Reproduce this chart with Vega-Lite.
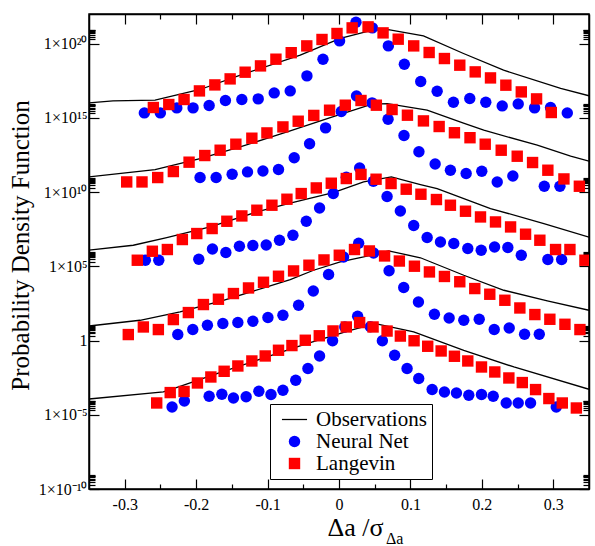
{
"$schema": "https://vega.github.io/schema/vega-lite/v6.json",
"width": 500, "height": 475,
"autosize": {"type": "none"},
"padding": {"left": 89, "top": 14, "right": 6, "bottom": 57},
"config": {
  "view": {"stroke": "black", "strokeWidth": 1.5},
  "font": "Liberation Serif",
  "axis": {"domainColor": "black", "domainWidth": 1.5, "tickColor": "black", "tickWidth": 1.2, "labelColor": "black", "titleColor": "black", "grid": false, "labelFont": "Liberation Serif", "titleFont": "Liberation Serif", "titleFontWeight": "normal", "labelFlush": false, "labelOverlap": false},
  "legend": {"labelFont": "Liberation Serif"}
},
"title": {"text": "Δa", "orient": "bottom", "anchor": "start", "frame": "group", "fontSize": 16, "font": "Liberation Serif", "fontWeight": "normal", "color": "black", "dx": 297, "offset": -9},
"data": {"values": [
{"m":"Observations","g":4,"x":-0.35,"y":1.03e16},{"m":"Observations","g":4,"x":-0.3164,"y":1.40e16},{"m":"Observations","g":4,"x":-0.2575,"y":1.56e16},{"m":"Observations","g":4,"x":-0.1945,"y":8.2e16},{"m":"Observations","g":4,"x":-0.1342,"y":8.8e17},{"m":"Observations","g":4,"x":-0.0543,"y":1.68e19},{"m":"Observations","g":4,"x":0.0018,"y":2.24e20},{"m":"Observations","g":4,"x":0.0467,"y":8.1e20},{"m":"Observations","g":4,"x":0.0691,"y":8.8e20},{"m":"Observations","g":4,"x":0.1182,"y":3.35e20},{"m":"Observations","g":4,"x":0.1743,"y":2.18e19},{"m":"Observations","g":4,"x":0.2304,"y":1.64e18},{"m":"Observations","g":4,"x":0.3103,"y":9.6e16},{"m":"Observations","g":4,"x":0.35,"y":3.1e16},
{"m":"Observations","g":3,"x":-0.35,"y":1.06e11},{"m":"Observations","g":3,"x":-0.2575,"y":3.33e11},{"m":"Observations","g":3,"x":-0.1945,"y":1.84e12},{"m":"Observations","g":3,"x":-0.1384,"y":1.11e13},{"m":"Observations","g":3,"x":-0.0869,"y":6.82e13},{"m":"Observations","g":3,"x":-0.0683,"y":1.33e14},{"m":"Observations","g":3,"x":-0.0122,"y":1.06e15},{"m":"Observations","g":3,"x":0.0463,"y":8.4e15},{"m":"Observations","g":3,"x":0.0677,"y":9.3e15},{"m":"Observations","g":3,"x":0.1234,"y":3.30e15},{"m":"Observations","g":3,"x":0.1743,"y":4.40e14},{"m":"Observations","g":3,"x":0.2027,"y":1.48e14},{"m":"Observations","g":3,"x":0.2776,"y":1.45e13},{"m":"Observations","g":3,"x":0.3243,"y":2.62e12},{"m":"Observations","g":3,"x":0.35,"y":1.21e12},
{"m":"Observations","g":2,"x":-0.35,"y":1.22e6},{"m":"Observations","g":2,"x":-0.288,"y":2.64e6},{"m":"Observations","g":2,"x":-0.2411,"y":8.73e6},{"m":"Observations","g":2,"x":-0.1804,"y":4.52e7},{"m":"Observations","g":2,"x":-0.115,"y":4.63e8},{"m":"Observations","g":2,"x":-0.0683,"y":1.79e9},{"m":"Observations","g":2,"x":-0.008,"y":9.1e9},{"m":"Observations","g":2,"x":0.0345,"y":4.86e10},{"m":"Observations","g":2,"x":0.0733,"y":1.06e11},{"m":"Observations","g":2,"x":0.114,"y":3.25e10},{"m":"Observations","g":2,"x":0.1374,"y":1.75e10},{"m":"Observations","g":2,"x":0.2121,"y":7.85e8},{"m":"Observations","g":2,"x":0.2868,"y":7.66e7},{"m":"Observations","g":2,"x":0.35,"y":9.14e6},
{"m":"Observations","g":1,"x":-0.35,"y":9.6},{"m":"Observations","g":1,"x":-0.2786,"y":23.3},{"m":"Observations","g":1,"x":-0.2225,"y":84.5},{"m":"Observations","g":1,"x":-0.1618,"y":519},{"m":"Observations","g":1,"x":-0.1009,"y":4090},{"m":"Observations","g":1,"x":-0.0683,"y":12900},{"m":"Observations","g":1,"x":-0.0356,"y":54600},{"m":"Observations","g":1,"x":0.0018,"y":198000},{"m":"Observations","g":1,"x":0.0345,"y":430000},{"m":"Observations","g":1,"x":0.0695,"y":1.09e6},{"m":"Observations","g":1,"x":0.114,"y":379000},{"m":"Observations","g":1,"x":0.1747,"y":25100},{"m":"Observations","g":1,"x":0.2308,"y":2450},{"m":"Observations","g":1,"x":0.2916,"y":466},{"m":"Observations","g":1,"x":0.35,"y":110},
{"m":"Observations","g":0,"x":-0.35,"y":1.16e-4},{"m":"Observations","g":0,"x":-0.2459,"y":3.44e-4},{"m":"Observations","g":0,"x":-0.2225,"y":8.32e-4},{"m":"Observations","g":0,"x":-0.171,"y":5.97e-3},{"m":"Observations","g":0,"x":-0.1009,"y":7.85e-2},{"m":"Observations","g":0,"x":-0.0449,"y":0.627},{"m":"Observations","g":0,"x":0.0158,"y":4.94},{"m":"Observations","g":0,"x":0.0509,"y":13.6},{"m":"Observations","g":0,"x":0.1046,"y":3.79},{"m":"Observations","g":0,"x":0.1747,"y":0.222},{"m":"Observations","g":0,"x":0.2448,"y":1.66e-2},{"m":"Observations","g":0,"x":0.35,"y":5.22e-4},
{"m":"Neural Net","g":4,"x":-0.2725,"y":2.17e15},{"m":"Neural Net","g":4,"x":-0.2501,"y":2.17e15},{"m":"Neural Net","g":4,"x":-0.2271,"y":4.72e15},{"m":"Neural Net","g":4,"x":-0.2043,"y":4.72e15},{"m":"Neural Net","g":4,"x":-0.1818,"y":6.84e15},{"m":"Neural Net","g":4,"x":-0.159,"y":1.49e16},{"m":"Neural Net","g":4,"x":-0.136,"y":1.74e16},{"m":"Neural Net","g":4,"x":-0.1131,"y":1.91e16},{"m":"Neural Net","g":4,"x":-0.0907,"y":4.83e16},{"m":"Neural Net","g":4,"x":-0.0683,"y":6.59e16},{"m":"Neural Net","g":4,"x":-0.0449,"y":6.76e17},{"m":"Neural Net","g":4,"x":-0.0224,"y":9.02e18},{"m":"Neural Net","g":4,"x":0.0008,"y":1.54e20},{"m":"Neural Net","g":4,"x":0.0238,"y":2.81e21},{"m":"Neural Net","g":4,"x":0.0467,"y":1.16e21},{"m":"Neural Net","g":4,"x":0.0691,"y":7.1e19},{"m":"Neural Net","g":4,"x":0.0915,"y":4.15e18},{"m":"Neural Net","g":4,"x":0.1144,"y":2.84e17},{"m":"Neural Net","g":4,"x":0.1374,"y":6.3e16},{"m":"Neural Net","g":4,"x":0.1602,"y":1.14e16},{"m":"Neural Net","g":4,"x":0.1831,"y":2.03e16},{"m":"Neural Net","g":4,"x":0.2055,"y":1.14e16},{"m":"Neural Net","g":4,"x":0.2285,"y":6.43e15},{"m":"Neural Net","g":4,"x":0.2509,"y":8.77e15},{"m":"Neural Net","g":4,"x":0.2738,"y":4.72e15},{"m":"Neural Net","g":4,"x":0.2962,"y":5.02e15},{"m":"Neural Net","g":4,"x":0.3196,"y":2.17e15},
{"m":"Neural Net","g":3,"x":-0.1945,"y":9.6e10},{"m":"Neural Net","g":3,"x":-0.172,"y":9.6e10},{"m":"Neural Net","g":3,"x":-0.1496,"y":1.61e11},{"m":"Neural Net","g":3,"x":-0.1281,"y":2.3e11},{"m":"Neural Net","g":3,"x":-0.1065,"y":2.68e11},{"m":"Neural Net","g":3,"x":-0.0847,"y":3.33e11},{"m":"Neural Net","g":3,"x":-0.0627,"y":2.08e12},{"m":"Neural Net","g":3,"x":-0.0412,"y":1.82e13},{"m":"Neural Net","g":3,"x":-0.0188,"y":2.12e14},{"m":"Neural Net","g":3,"x":0.0032,"y":2.7e15},{"m":"Neural Net","g":3,"x":0.0245,"y":3.03e16},{"m":"Neural Net","g":3,"x":0.0463,"y":1.03e16},{"m":"Neural Net","g":3,"x":0.0687,"y":8.2e14},{"m":"Neural Net","g":3,"x":0.091,"y":6.5e13},{"m":"Neural Net","g":3,"x":0.1119,"y":5.27e12},{"m":"Neural Net","g":3,"x":0.1346,"y":7.94e11},{"m":"Neural Net","g":3,"x":0.156,"y":2.99e11},{"m":"Neural Net","g":3,"x":0.178,"y":1.79e11},{"m":"Neural Net","g":3,"x":0.1999,"y":2.56e11},{"m":"Neural Net","g":3,"x":0.2215,"y":4.86e10},{"m":"Neural Net","g":3,"x":0.2434,"y":1.23e11},{"m":"Neural Net","g":3,"x":0.2874,"y":2.49e10},{"m":"Neural Net","g":3,"x":0.3093,"y":2.49e10},
{"m":"Neural Net","g":2,"x":-0.2711,"y":2.58e5},{"m":"Neural Net","g":2,"x":-0.2523,"y":2.58e5},{"m":"Neural Net","g":2,"x":-0.1963,"y":3.01e5},{"m":"Neural Net","g":2,"x":-0.1772,"y":1.49e6},{"m":"Neural Net","g":2,"x":-0.1584,"y":8.5e5},{"m":"Neural Net","g":2,"x":-0.1394,"y":2.26e6},{"m":"Neural Net","g":2,"x":-0.1206,"y":2.52e6},{"m":"Neural Net","g":2,"x":-0.1019,"y":2.77e6},{"m":"Neural Net","g":2,"x":-0.0833,"y":5.74e6},{"m":"Neural Net","g":2,"x":-0.0645,"y":1.24e7},{"m":"Neural Net","g":2,"x":-0.0458,"y":1.09e8},{"m":"Neural Net","g":2,"x":-0.0272,"y":8.6e8},{"m":"Neural Net","g":2,"x":-0.008,"y":8.0e9},{"m":"Neural Net","g":2,"x":0.0102,"y":1.01e11},{"m":"Neural Net","g":2,"x":0.0289,"y":4.28e11},{"m":"Neural Net","g":2,"x":0.0481,"y":5.42e10},{"m":"Neural Net","g":2,"x":0.0673,"y":5.05e9},{"m":"Neural Net","g":2,"x":0.0859,"y":5.41e8},{"m":"Neural Net","g":2,"x":0.1046,"y":5.7e7},{"m":"Neural Net","g":2,"x":0.1234,"y":8.73e6},{"m":"Neural Net","g":2,"x":0.142,"y":4.41e6},{"m":"Neural Net","g":2,"x":0.1607,"y":3.44e6},{"m":"Neural Net","g":2,"x":0.1803,"y":1.58e6},{"m":"Neural Net","g":2,"x":0.1991,"y":1.22e6},{"m":"Neural Net","g":2,"x":0.2178,"y":2.03e6},{"m":"Neural Net","g":2,"x":0.2364,"y":1.85e6},{"m":"Neural Net","g":2,"x":0.2552,"y":5.6e5},{"m":"Neural Net","g":2,"x":0.2924,"y":2.87e5},{"m":"Neural Net","g":2,"x":0.3117,"y":2.87e5},
{"m":"Neural Net","g":1,"x":-0.2257,"y":2.54},{"m":"Neural Net","g":1,"x":-0.2047,"y":5.51},{"m":"Neural Net","g":1,"x":-0.1842,"y":10.7},{"m":"Neural Net","g":1,"x":-0.1626,"y":14.0},{"m":"Neural Net","g":1,"x":-0.1416,"y":16.3},{"m":"Neural Net","g":1,"x":-0.1206,"y":20.0},{"m":"Neural Net","g":1,"x":-0.0995,"y":35.5},{"m":"Neural Net","g":1,"x":-0.0785,"y":50.7},{"m":"Neural Net","g":1,"x":-0.0566,"y":239},{"m":"Neural Net","g":1,"x":-0.036,"y":2200},{"m":"Neural Net","g":1,"x":-0.0146,"y":28000},{"m":"Neural Net","g":1,"x":0.0064,"y":430000},{"m":"Neural Net","g":1,"x":0.0275,"y":3.61e6},{"m":"Neural Net","g":1,"x":0.0485,"y":800000},{"m":"Neural Net","g":1,"x":0.0701,"y":50600},{"m":"Neural Net","g":1,"x":0.0906,"y":3780},{"m":"Neural Net","g":1,"x":0.1112,"y":399},{"m":"Neural Net","g":1,"x":0.1336,"y":59.2},{"m":"Neural Net","g":1,"x":0.1542,"y":33.3},{"m":"Neural Net","g":1,"x":0.1747,"y":23.3},{"m":"Neural Net","g":1,"x":0.1963,"y":27.2},{"m":"Neural Net","g":1,"x":0.2173,"y":5.51},{"m":"Neural Net","g":1,"x":0.2383,"y":7.06},{"m":"Neural Net","g":1,"x":0.2598,"y":2.65},{"m":"Neural Net","g":1,"x":0.2804,"y":2.65},
{"m":"Neural Net","g":0,"x":-0.2337,"y":3.36e-5},{"m":"Neural Net","g":0,"x":-0.2165,"y":8.51e-5},{"m":"Neural Net","g":0,"x":-0.1818,"y":1.77e-4},{"m":"Neural Net","g":0,"x":-0.164,"y":2.4e-4},{"m":"Neural Net","g":0,"x":-0.1478,"y":1.36e-4},{"m":"Neural Net","g":0,"x":-0.13,"y":1.63e-4},{"m":"Neural Net","g":0,"x":-0.1122,"y":3.83e-4},{"m":"Neural Net","g":0,"x":-0.0952,"y":2.3e-4},{"m":"Neural Net","g":0,"x":-0.0785,"y":4.48e-4},{"m":"Neural Net","g":0,"x":-0.0606,"y":2.11e-3},{"m":"Neural Net","g":0,"x":-0.0435,"y":1.3e-2},{"m":"Neural Net","g":0,"x":-0.0272,"y":9.16e-2},{"m":"Neural Net","g":0,"x":-0.009,"y":0.97},{"m":"Neural Net","g":0,"x":0.0081,"y":8.24},{"m":"Neural Net","g":0,"x":0.0261,"y":43.4},{"m":"Neural Net","g":0,"x":0.0439,"y":8.51},{"m":"Neural Net","g":0,"x":0.0607,"y":0.97},{"m":"Neural Net","g":0,"x":0.0779,"y":0.102},{"m":"Neural Net","g":0,"x":0.0953,"y":1.3e-2},{"m":"Neural Net","g":0,"x":0.1116,"y":2.75e-3},{"m":"Neural Net","g":0,"x":0.1304,"y":4.99e-4},{"m":"Neural Net","g":0,"x":0.1476,"y":3.44e-4},{"m":"Neural Net","g":0,"x":0.1644,"y":2.94e-4},{"m":"Neural Net","g":0,"x":0.1817,"y":2.06e-4},{"m":"Neural Net","g":0,"x":0.1995,"y":2.3e-4},{"m":"Neural Net","g":0,"x":0.2159,"y":1.77e-4},{"m":"Neural Net","g":0,"x":0.2341,"y":6.24e-5},{"m":"Neural Net","g":0,"x":0.2509,"y":6.24e-5},{"m":"Neural Net","g":0,"x":0.2682,"y":6.24e-5},{"m":"Neural Net","g":0,"x":0.3042,"y":3.36e-5},
{"m":"Langevin","g":4,"x":-0.2599,"y":5.02e15},{"m":"Langevin","g":4,"x":-0.2383,"y":8.0e15},{"m":"Langevin","g":4,"x":-0.2169,"y":1.74e16},{"m":"Langevin","g":4,"x":-0.1954,"y":6.59e16},{"m":"Langevin","g":4,"x":-0.1738,"y":1.67e17},{"m":"Langevin","g":4,"x":-0.1524,"y":4.25e17},{"m":"Langevin","g":4,"x":-0.1314,"y":1.2e18},{"m":"Langevin","g":4,"x":-0.1099,"y":3.19e18},{"m":"Langevin","g":4,"x":-0.0883,"y":9.02e18},{"m":"Langevin","g":4,"x":-0.0669,"y":2.47e19},{"m":"Langevin","g":4,"x":-0.0451,"y":7.1e19},{"m":"Langevin","g":4,"x":-0.0238,"y":1.92e20},{"m":"Langevin","g":4,"x":-0.0028,"y":4.86e20},{"m":"Langevin","g":4,"x":0.0184,"y":1.16e21},{"m":"Langevin","g":4,"x":0.0407,"y":1.36e21},{"m":"Langevin","g":4,"x":0.0617,"y":5.35e20},{"m":"Langevin","g":4,"x":0.0829,"y":2.01e20},{"m":"Langevin","g":4,"x":0.1046,"y":7.1e19},{"m":"Langevin","g":4,"x":0.1262,"y":2.55e19},{"m":"Langevin","g":4,"x":0.1476,"y":1.0e19},{"m":"Langevin","g":4,"x":0.1691,"y":3.56e18},{"m":"Langevin","g":4,"x":0.1907,"y":1.26e18},{"m":"Langevin","g":4,"x":0.2121,"y":4.95e17},{"m":"Langevin","g":4,"x":0.2336,"y":1.6e17},{"m":"Langevin","g":4,"x":0.2552,"y":5.65e16},{"m":"Langevin","g":4,"x":0.2766,"y":1.91e16},{"m":"Langevin","g":4,"x":0.2972,"y":2.31e15},
{"m":"Langevin","g":3,"x":-0.2972,"y":4.86e10},{"m":"Langevin","g":3,"x":-0.2758,"y":4.86e10},{"m":"Langevin","g":3,"x":-0.2538,"y":9.6e10},{"m":"Langevin","g":3,"x":-0.2319,"y":2.44e11},{"m":"Langevin","g":3,"x":-0.2099,"y":1.04e12},{"m":"Langevin","g":3,"x":-0.1879,"y":2.92e12},{"m":"Langevin","g":3,"x":-0.1664,"y":6.65e12},{"m":"Langevin","g":3,"x":-0.1444,"y":1.69e13},{"m":"Langevin","g":3,"x":-0.122,"y":4.29e13},{"m":"Langevin","g":3,"x":-0.1009,"y":9.75e13},{"m":"Langevin","g":3,"x":-0.0785,"y":2.47e14},{"m":"Langevin","g":3,"x":-0.0571,"y":5.98e14},{"m":"Langevin","g":3,"x":-0.0353,"y":1.47e15},{"m":"Langevin","g":3,"x":-0.0132,"y":3.3e15},{"m":"Langevin","g":3,"x":0.0088,"y":7.18e15},{"m":"Langevin","g":3,"x":0.0308,"y":1.49e16},{"m":"Langevin","g":3,"x":0.0523,"y":7.18e15},{"m":"Langevin","g":3,"x":0.0743,"y":3.68e15},{"m":"Langevin","g":3,"x":0.0958,"y":1.52e15},{"m":"Langevin","g":3,"x":0.1182,"y":6.28e14},{"m":"Langevin","g":3,"x":0.1402,"y":2.63e14},{"m":"Langevin","g":3,"x":0.1616,"y":1.0e14},{"m":"Langevin","g":3,"x":0.1834,"y":4.63e13},{"m":"Langevin","g":3,"x":0.2047,"y":1.69e13},{"m":"Langevin","g":3,"x":0.2271,"y":6.65e12},{"m":"Langevin","g":3,"x":0.2495,"y":2.62e12},{"m":"Langevin","g":3,"x":0.271,"y":9.86e11},{"m":"Langevin","g":3,"x":0.2924,"y":2.99e11},{"m":"Langevin","g":3,"x":0.3149,"y":7.74e10},{"m":"Langevin","g":3,"x":0.3365,"y":2.49e10},
{"m":"Langevin","g":2,"x":-0.2824,"y":2.58e5},{"m":"Langevin","g":2,"x":-0.2613,"y":1.04e6},{"m":"Langevin","g":2,"x":-0.2403,"y":1.36e6},{"m":"Langevin","g":2,"x":-0.2193,"y":6.4e6},{"m":"Langevin","g":2,"x":-0.1991,"y":1.62e7},{"m":"Langevin","g":2,"x":-0.1776,"y":3.52e7},{"m":"Langevin","g":2,"x":-0.157,"y":1.09e8},{"m":"Langevin","g":2,"x":-0.136,"y":2.49e8},{"m":"Langevin","g":2,"x":-0.115,"y":6.03e8},{"m":"Langevin","g":2,"x":-0.0939,"y":1.31e9},{"m":"Langevin","g":2,"x":-0.0729,"y":3.32e9},{"m":"Langevin","g":2,"x":-0.0529,"y":8.0e9},{"m":"Langevin","g":2,"x":-0.0318,"y":1.92e10},{"m":"Langevin","g":2,"x":-0.0108,"y":3.98e10},{"m":"Langevin","g":2,"x":0.0102,"y":8.24e10},{"m":"Langevin","g":2,"x":0.0308,"y":1.56e11},{"m":"Langevin","g":2,"x":0.0519,"y":7.4e10},{"m":"Langevin","g":2,"x":0.0729,"y":3.79e10},{"m":"Langevin","g":2,"x":0.0941,"y":1.57e10},{"m":"Langevin","g":2,"x":0.1147,"y":7.21e9},{"m":"Langevin","g":2,"x":0.1364,"y":3.17e9},{"m":"Langevin","g":2,"x":0.156,"y":1.31e9},{"m":"Langevin","g":2,"x":0.1771,"y":5.16e8},{"m":"Langevin","g":2,"x":0.1981,"y":2.13e8},{"m":"Langevin","g":2,"x":0.2191,"y":9.8e7},{"m":"Langevin","g":2,"x":0.2402,"y":4.52e7},{"m":"Langevin","g":2,"x":0.2612,"y":1.46e7},{"m":"Langevin","g":2,"x":0.2812,"y":5.74e6},{"m":"Langevin","g":2,"x":0.3032,"y":1.36e6},{"m":"Langevin","g":2,"x":0.3233,"y":1.36e6},{"m":"Langevin","g":2,"x":0.3443,"y":2.58e5},
{"m":"Langevin","g":1,"x":-0.295,"y":2.54},{"m":"Langevin","g":1,"x":-0.2739,"y":8.24},{"m":"Langevin","g":1,"x":-0.2529,"y":5.51},{"m":"Langevin","g":1,"x":-0.2319,"y":26.0},{"m":"Langevin","g":1,"x":-0.2109,"y":76.9},{"m":"Langevin","g":1,"x":-0.1898,"y":267},{"m":"Langevin","g":1,"x":-0.1688,"y":607},{"m":"Langevin","g":1,"x":-0.1478,"y":1470},{"m":"Langevin","g":1,"x":-0.1267,"y":3500},{"m":"Langevin","g":1,"x":-0.1057,"y":8470},{"m":"Langevin","g":1,"x":-0.0847,"y":21500},{"m":"Langevin","g":1,"x":-0.0636,"y":49000},{"m":"Langevin","g":1,"x":-0.0421,"y":119000},{"m":"Langevin","g":1,"x":-0.021,"y":270000},{"m":"Langevin","g":1,"x":0.0004,"y":560000},{"m":"Langevin","g":1,"x":0.0217,"y":1.36e6},{"m":"Langevin","g":1,"x":0.0425,"y":1.09e6},{"m":"Langevin","g":1,"x":0.0638,"y":502000},{"m":"Langevin","g":1,"x":0.0845,"y":228000},{"m":"Langevin","g":1,"x":0.1056,"y":102000},{"m":"Langevin","g":1,"x":0.1266,"y":42000},{"m":"Langevin","g":1,"x":0.1476,"y":20800},{"m":"Langevin","g":1,"x":0.1691,"y":9160},{"m":"Langevin","g":1,"x":0.1901,"y":3190},{"m":"Langevin","g":1,"x":0.2111,"y":1320},{"m":"Langevin","g":1,"x":0.2322,"y":519},{"m":"Langevin","g":1,"x":0.2532,"y":157},{"m":"Langevin","g":1,"x":0.2742,"y":56.5},{"m":"Langevin","g":1,"x":0.2952,"y":27.2},{"m":"Langevin","g":1,"x":0.3163,"y":12.5},{"m":"Langevin","g":1,"x":0.3373,"y":5.51},
{"m":"Langevin","g":0,"x":-0.2552,"y":6.24e-5},{"m":"Langevin","g":0,"x":-0.2363,"y":3.13e-4},{"m":"Langevin","g":0,"x":-0.2169,"y":3.72e-4},{"m":"Langevin","g":0,"x":-0.1982,"y":1.39e-3},{"m":"Langevin","g":0,"x":-0.1794,"y":3.52e-3},{"m":"Langevin","g":0,"x":-0.1608,"y":8.53e-3},{"m":"Langevin","g":0,"x":-0.1416,"y":1.94e-2},{"m":"Langevin","g":0,"x":-0.122,"y":4.22e-2},{"m":"Langevin","g":0,"x":-0.1033,"y":9.16e-2},{"m":"Langevin","g":0,"x":-0.0847,"y":0.222},{"m":"Langevin","g":0,"x":-0.0659,"y":0.46},{"m":"Langevin","g":0,"x":-0.0472,"y":1.05},{"m":"Langevin","g":0,"x":-0.0276,"y":2.1},{"m":"Langevin","g":0,"x":-0.0084,"y":4.44},{"m":"Langevin","g":0,"x":0.0102,"y":8.24},{"m":"Langevin","g":0,"x":0.0289,"y":16.3},{"m":"Langevin","g":0,"x":0.0477,"y":8.24},{"m":"Langevin","g":0,"x":0.0673,"y":4.37},{"m":"Langevin","g":0,"x":0.0859,"y":2.01},{"m":"Langevin","g":0,"x":0.1051,"y":0.97},{"m":"Langevin","g":0,"x":0.1242,"y":0.413},{"m":"Langevin","g":0,"x":0.143,"y":0.199},{"m":"Langevin","g":0,"x":0.1616,"y":8.75e-2},{"m":"Langevin","g":0,"x":0.1803,"y":4.22e-2},{"m":"Langevin","g":0,"x":0.1995,"y":1.66e-2},{"m":"Langevin","g":0,"x":0.2181,"y":7.66e-3},{"m":"Langevin","g":0,"x":0.2378,"y":3.02e-3},{"m":"Langevin","g":0,"x":0.2566,"y":1.48e-3},{"m":"Langevin","g":0,"x":0.2752,"y":4.99e-4},{"m":"Langevin","g":0,"x":0.2938,"y":1.24e-4},{"m":"Langevin","g":0,"x":0.3126,"y":6.24e-5},{"m":"Langevin","g":0,"x":0.3323,"y":2.87e-5}
]},
"layer": [
  {
    "transform": [{"filter": "datum.m === 'Observations'"}],
    "mark": {"type": "line", "color": "black", "strokeWidth": 1.3, "clip": true},
    "encoding": {
      "x": {"field": "x", "type": "quantitative", "scale": {"domain": [-0.35, 0.35], "nice": false, "zero": false},
        "axis": {"orient": "bottom", "values": [-0.3,-0.25,-0.2,-0.15,-0.1,-0.05,0,0.05,0.1,0.15,0.2,0.25,0.3],
          "tickSize": {"condition": {"test": "abs(datum.value*10-round(datum.value*10))<0.01", "value": -10}, "value": -5},
          "labelExpr": "abs(datum.value*10-round(datum.value*10))<0.01 ? replace(format(datum.value,'.1~f'),'−','-') : ''",
          "labelFontSize": 16, "labelPadding": 17,
          "title": "Δa /σ", "titleFontSize": 26, "titleX": 266, "titleY": 46, "titleAlign": "center", "titleBaseline": "alphabetic"}},
      "y": {"field": "y", "type": "quantitative", "scale": {"type": "log", "domain": [1e-10, 1e22], "nice": false},
        "axis": {"orient": "left", "values": [1e-10,2e-10,3e-10,4e-10,5e-10,6e-10,7e-10,8e-10,9e-10,1e-5,2e-5,3e-5,4e-5,5e-5,6e-5,7e-5,8e-5,9e-5,1,2,3,4,5,6,7,8,9,1e5,2e5,3e5,4e5,5e5,6e5,7e5,8e5,9e5,1e10,2e10,3e10,4e10,5e10,6e10,7e10,8e10,9e10,1e15,2e15,3e15,4e15,5e15,6e15,7e15,8e15,9e15,1e20,2e20,3e20,4e20,5e20,6e20,7e20,8e20,9e20],
          "tickSize": {"condition": {"test": "datum.value===1e-10||datum.value===1e-5||datum.value===1||datum.value===1e5||datum.value===1e10||datum.value===1e15||datum.value===1e20", "value": -10}, "value": -6},
          "labelExpr": "datum.value===1e-10?'1×10⁻¹⁰':datum.value===1e-5?'1×10⁻⁵':datum.value===1?'1':datum.value===1e5?'1×10⁵':datum.value===1e10?'1×10¹⁰':datum.value===1e15?'1×10¹⁵':datum.value===1e20?'1×10²⁰':''",
          "labelFontSize": 16, "labelPadding": 12,
          "title": "Probability Density Function", "titleFontSize": 25, "titleX": -61, "titleY": 231, "titleAlign": "center", "titleBaseline": "alphabetic", "titleAngle": -90}},
      "detail": {"field": "g", "type": "nominal"}
    }
  },
  {
    "transform": [{"filter": "datum.m !== 'Observations'"}],
    "mark": {"type": "point", "filled": true, "opacity": 1, "clip": true},
    "encoding": {
      "x": {"field": "x", "type": "quantitative",
        "axis": {"orient": "top", "values": [-0.3,-0.25,-0.2,-0.15,-0.1,-0.05,0,0.05,0.1,0.15,0.2,0.25,0.3],
          "tickSize": {"condition": {"test": "abs(datum.value*10-round(datum.value*10))<0.01", "value": -10}, "value": -5},
          "labels": false, "title": null}},
      "y": {"field": "y", "type": "quantitative",
        "axis": {"orient": "right", "values": [1e-10,2e-10,3e-10,4e-10,5e-10,6e-10,7e-10,8e-10,9e-10,1e-5,2e-5,3e-5,4e-5,5e-5,6e-5,7e-5,8e-5,9e-5,1,2,3,4,5,6,7,8,9,1e5,2e5,3e5,4e5,5e5,6e5,7e5,8e5,9e5,1e10,2e10,3e10,4e10,5e10,6e10,7e10,8e10,9e10,1e15,2e15,3e15,4e15,5e15,6e15,7e15,8e15,9e15,1e20,2e20,3e20,4e20,5e20,6e20,7e20,8e20,9e20],
          "tickSize": {"condition": {"test": "datum.value===1e-10||datum.value===1e-5||datum.value===1||datum.value===1e5||datum.value===1e10||datum.value===1e15||datum.value===1e20", "value": -10}, "value": -6},
          "labels": false, "title": null}},
      "color": {"field": "m", "type": "nominal",
        "scale": {"domain": ["Observations", "Neural Net", "Langevin"], "range": ["black", "#0000ff", "#ff0000"]},
        "legend": {"title": null, "orient": "none", "legendX": 181, "legendY": 390, "direction": "vertical",
          "strokeColor": "black", "fillColor": "white", "padding": 5, "symbolOffset": 9, "labelOffset": 11,
          "labelFont": "Liberation Serif", "labelFontSize": 21, "labelColor": "black", "symbolSize": 130, "rowPadding": 0,
          "encode": {"legend": {"update": {"strokeWidth": {"value": 1.5}}}}}},
      "shape": {"field": "m", "type": "nominal",
        "scale": {"domain": ["Observations", "Neural Net", "Langevin"], "range": ["M-2.2,-0.11L2.2,-0.11L2.2,0.11L-2.2,0.11Z", "circle", "square"]},
        "legend": {"title": null, "orient": "none", "legendX": 181, "legendY": 390, "direction": "vertical",
          "strokeColor": "black", "fillColor": "white", "padding": 5, "symbolOffset": 9, "labelOffset": 11,
          "labelFont": "Liberation Serif", "labelFontSize": 21, "labelColor": "black", "symbolSize": 130, "rowPadding": 0,
          "encode": {"legend": {"update": {"strokeWidth": {"value": 1.5}}}}}},
      "size": {"field": "m", "type": "nominal", "scale": {"domain": ["Observations", "Neural Net", "Langevin"], "range": [130, 130, 115]}, "legend": null}
    }
  }
],
"resolve": {"axis": {"x": "independent", "y": "independent"}}
}
